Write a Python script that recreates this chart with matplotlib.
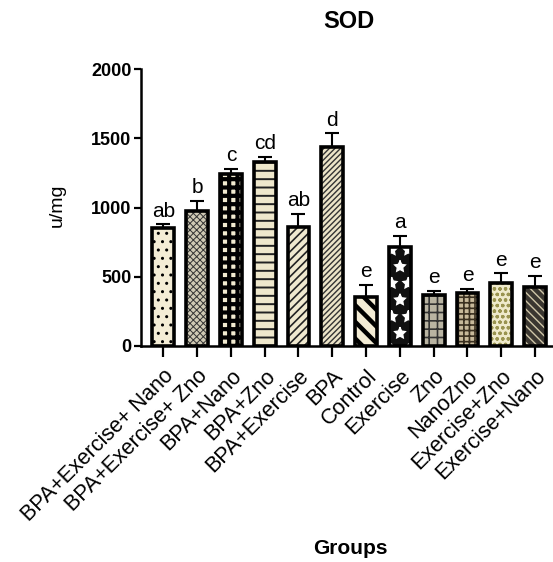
import matplotlib
matplotlib.use("Agg")
import matplotlib.pyplot as plt
import numpy as np

plt.rcParams['font.family'] = ['Liberation Sans', 'DejaVu Sans']

groups = ["BPA+Exercise+ Nano", "BPA+Exercise+ Zno", "BPA+Nano", "BPA+Zno",
          "BPA+Exercise", "BPA", "Control", "Exercise", "Zno", "NanoZno",
          "Exercise+Zno", "Exercise+Nano"]
means = [854, 977, 1242, 1326, 857, 1439, 356, 717, 366, 385, 455, 426]
sems = [25, 72, 38, 41, 96, 97, 87, 79, 31, 29, 70, 82]
letters = ["ab", "b", "c", "cd", "ab", "d", "e", "a", "e", "e", "e", "e"]

# fill colour, hatch pattern, hatch colour and hatch line width per group
faces = ["#f4edd6", "#cfc9b4", "#f1ead0", "#efe8cc", "#f0e9cf", "#ece4c8",
         "#f3ecd5", "#111111", "#b9b4a2", "#c7b99a", "#efeacb", "#3a3630"]
hatches = ["..", "xxxxx", "++", "--", "////", "//////",
           "\\\\", "*", "++", "+++", "ooo", "\\\\\\\\"]
hcolors = ["black", "#333333", "black", "#222222", "#222222", "#333333",
           "black", "white", "#333333", "#3a3020", "#9a9450", "#cfc6a8"]
hwidths = [1.0, 0.7, 3.0, 1.4, 1.2, 1.0, 3.2, 1.0, 1.2, 1.2, 0.9, 1.0]

fig = plt.figure(figsize=(5.53, 5.62), dpi=100)
ax = fig.add_axes([141/553, 216/562, 1 - 141/553, (493 - 216)/562])

x = np.arange(len(groups))
w = 0.64

# error bars (upper side only)
ax.errorbar(x, means, yerr=[np.zeros(len(sems)), sems], fmt='none',
            ecolor='black', elinewidth=1.5, capsize=5, capthick=1.5, zorder=1)

for i in range(len(groups)):
    with plt.rc_context({'hatch.linewidth': hwidths[i]}):
        ax.bar(x[i], means[i], width=w, color=faces[i], edgecolor=hcolors[i],
               hatch=hatches[i], linewidth=0, zorder=2)
    ax.bar(x[i], means[i], width=w, facecolor='none', edgecolor='black',
           linewidth=2.6, zorder=3)
    ax.text(x[i], means[i] + sems[i] + 55, letters[i], ha='center',
            va='baseline', fontsize=15)

ax.set_xlim(-0.66, 11.53)
ax.set_ylim(0, 2000)
ax.set_yticks([0, 500, 1000, 1500, 2000])
ax.set_yticklabels(["0", "500", "1000", "1500", "2000"], fontweight='bold',
                   fontsize=13)
ax.set_xticks(x)
ax.set_xticklabels(groups, rotation=45, ha='right', rotation_mode='anchor',
                   fontsize=15.5)

for s in ['top', 'right']:
    ax.spines[s].set_visible(False)
for s in ['left', 'bottom']:
    ax.spines[s].set_linewidth(1.8)
ax.tick_params(axis='y', length=5, width=1.6, pad=2)
ax.tick_params(axis='x', length=8, width=1.6, pad=6)

fig.text(57/553, 1 - 205/562, "u/mg", ha='center', va='center',
         rotation=90, fontsize=14)
fig.text(349/553, 1 - 22/562, "SOD", ha='center', va='center',
         fontsize=17, fontweight='bold')
fig.text(350/553, 1 - 548/562, "Groups", ha='center', va='center',
         fontsize=15, fontweight='bold')

fig.savefig("out.png", dpi=100, facecolor='white')
